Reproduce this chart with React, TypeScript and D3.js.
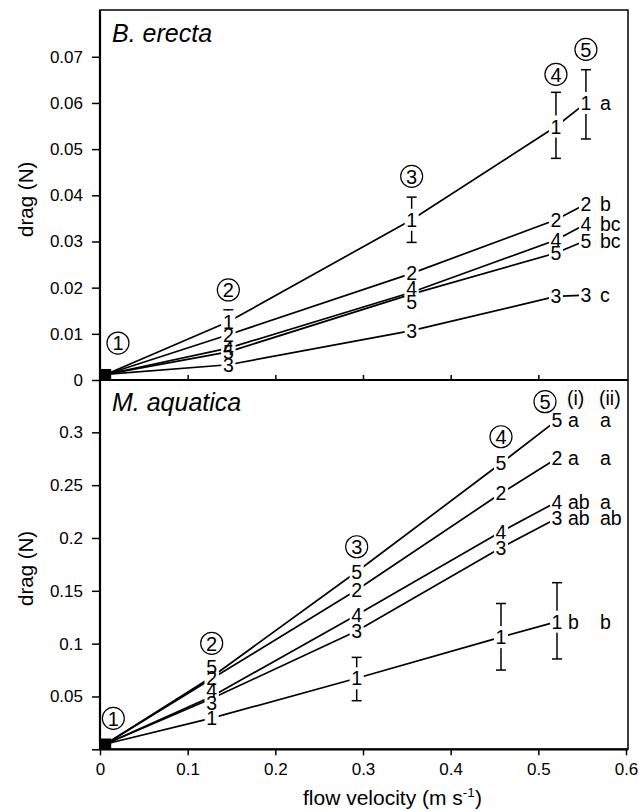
import React, { useEffect, useRef } from "react";
import * as d3 from "d3";

const W = 641;
const H = 811;
const FONT = "'Liberation Sans', Arial, Helvetica, sans-serif";

// ---- B. erecta (top panel) ----
const erectaVelocity = [0.0065, 0.1464, 0.3555, 0.5201, 0.5543];
const erecta1 = [0.0012, 0.0126, 0.0347, 0.0549, 0.06];
const erecta2 = [0.0012, 0.0098, 0.0231, 0.0347, 0.0381];
const erecta3 = [0.0012, 0.0033, 0.0107, 0.0181, 0.0184];
const erecta4 = [0.0012, 0.0069, 0.019, 0.0303, 0.0338];
const erecta5 = [0.0012, 0.0061, 0.0186, 0.0275, 0.0302];
const erecta1Low = [NaN, 0.01, 0.0298, 0.048, 0.0522];
const erecta1High = [NaN, 0.0152, 0.0396, 0.0623, 0.0672];
const erectaLetters = ["a", "b", "c", "bc", "bc"];
// label values moved apart where two symbols sit on one point
const erectaLabelMoves = [
  { series: 3, station: 2, value: 0.02 },
  { series: 4, station: 2, value: 0.017 },
];
const erectaStationX = [0.0205, 0.1464, 0.3555, 0.5201, 0.5543];
const erectaStationY = [0.008, 0.0195, 0.0441, 0.0662, 0.0716];
const erectaTicks = [0, 0.01, 0.02, 0.03, 0.04, 0.05, 0.06, 0.07];

// ---- M. aquatica (bottom panel) ----
const aquaticaVelocity = [0.0065, 0.1274, 0.2928, 0.4574, 0.5213];
const aquatica1 = [0.005, 0.0295, 0.0672, 0.1062, 0.1208];
const aquatica2 = [0.005, 0.0667, 0.1508, 0.2423, 0.2754];
const aquatica3 = [0.005, 0.048, 0.112, 0.1908, 0.2186];
const aquatica4 = [0.005, 0.05, 0.1271, 0.2059, 0.2343];
const aquatica5 = [0.005, 0.0684, 0.168, 0.2707, 0.3116];
const aquatica1Low = [NaN, 0.0199, 0.046, 0.075, 0.0855];
const aquatica1High = [NaN, 0.042, 0.087, 0.138, 0.1577];
const aquaticaLettersI = ["b", "a", "ab", "ab", "a"];
const aquaticaLettersII = ["b", "a", "ab", "a", "a"];
const aquaticaLabelMoves = [
  { series: 4, station: 1, value: 0.0776 },
  { series: 1, station: 1, value: 0.0672 },
  { series: 3, station: 1, value: 0.0561 },
  { series: 2, station: 1, value: 0.0435 },
];
const aquaticaStationX = [0.0152, 0.1274, 0.2928, 0.4574, 0.5076];
const aquaticaStationY = [0.0293, 0.1003, 0.1917, 0.2958, 0.329];
const aquaticaTicks = [0, 0.05, 0.1, 0.15, 0.2, 0.25, 0.3];

const xTicks = [0, 0.1, 0.2, 0.3, 0.4, 0.5, 0.6];
const seriesNames = ["1", "2", "3", "4", "5"];
const stationNames = ["1", "2", "3", "4", "5"];

const LABEL_FS = 19.5;

function drawPanel(svg, x, p) {
  const y = d3.scaleLinear().domain(p.yDomain).range(p.yRange);
  const g = svg.append("g");

  // y axis
  const ya = g
    .append("g")
    .attr("transform", `translate(${x(0)},0)`)
    .call(
      d3
        .axisLeft(y)
        .tickValues(p.yTicks)
        .tickSize(8)
        .tickPadding(9)
        .tickFormat((v) => (p.hideZero && v === 0 ? "" : String(v)))
    );
  ya.select(".domain").remove();
  ya.selectAll("line").attr("stroke", "#000").attr("stroke-width", 1.5);
  ya.selectAll("text")
    .attr("font-size", 17)
    .attr("font-family", FONT)
    .attr("fill", "#000");

  // x axis
  if (p.xLabels) {
    const xa = g
      .append("g")
      .attr("transform", `translate(0,${y(0)})`)
      .call(d3.axisBottom(x).tickValues(xTicks).tickSize(6).tickPadding(8).tickFormat((v) => String(v)));
    xa.select(".domain").remove();
    xa.selectAll("line").attr("stroke", "#000").attr("stroke-width", 1.5);
    xa.selectAll("text")
      .attr("font-size", 17)
      .attr("font-family", FONT)
      .attr("fill", "#000");
  } else {
    const xa = g
      .append("g")
      .attr("transform", `translate(0,${y(0)})`)
      .call(d3.axisTop(x).tickValues(xTicks.slice(1, 6)).tickSize(5).tickFormat(() => ""));
    xa.select(".domain").remove();
    xa.selectAll("line").attr("stroke", "#000").attr("stroke-width", 1.5);
  }

  const line = d3
    .line<number>()
    .x((_, i) => x(p.velocity[i]))
    .y((d) => y(d));

  // lines
  p.series.forEach((s) => {
    g.append("path")
      .datum(s)
      .attr("fill", "none")
      .attr("stroke", "#000")
      .attr("stroke-width", 1.7)
      .attr("d", line);
  });

  // error bars for series 1
  p.low.forEach((lo, i) => {
    if (isNaN(lo)) return;
    const hi = p.high[i];
    const cx = x(p.velocity[i]);
    const eb = g.append("g").attr("stroke", "#000").attr("stroke-width", 1.5);
    eb.append("line").attr("x1", cx).attr("x2", cx).attr("y1", y(lo)).attr("y2", y(hi));
    eb.append("line").attr("x1", cx - 5).attr("x2", cx + 5).attr("y1", y(lo)).attr("y2", y(lo));
    eb.append("line").attr("x1", cx - 5).attr("x2", cx + 5).attr("y1", y(hi)).attr("y2", y(hi));
  });

  // symbol labels (numbers) at each point; white boxes break the lines
  const labels = [];
  p.series.forEach((s, si) => {
    s.forEach((v, i) => {
      if (i === 0) return;
      const mv = p.moves.find((m) => m.series === si && m.station === i);
      labels.push({ t: seriesNames[si], x: x(p.velocity[i]), y: y(mv ? mv.value : v) });
    });
  });
  labels.forEach((l) => {
    g.append("rect")
      .attr("x", l.x - 7)
      .attr("y", l.y - 11)
      .attr("width", 14)
      .attr("height", 22)
      .attr("fill", "#fff");
  });
  const lg = g.append("g").attr("font-size", LABEL_FS).attr("text-anchor", "middle");
  labels.forEach((l) => {
    lg.append("text").attr("x", l.x).attr("y", l.y).attr("dy", "0.36em").attr("fill", "#000").text(l.t);
  });

  // origin symbols (all series overlap)
  g.append("rect")
    .attr("x", x(p.velocity[0]) - 5.5)
    .attr("y", y(p.series[0][0]) - 5.5)
    .attr("width", 11)
    .attr("height", 11)
    .attr("fill", "#000");

  // significance letters
  const x5 = x(p.velocity[4]);
  p.letterCols.forEach((col) => {
    col.letters.forEach((t, si) => {
      g.append("text")
        .attr("x", x5 + col.dx)
        .attr("y", y(p.series[si][4]))
        .attr("dy", "0.36em")
        .attr("font-size", LABEL_FS)
        .attr("fill", "#000")
        .text(t);
    });
    if (col.head) {
      g.append("text")
        .attr("x", x5 + col.dx - 1)
        .attr("y", p.yRange[1] + 25)
        .attr("font-size", LABEL_FS)
        .attr("fill", "#000")
        .text(col.head);
    }
  });

  // circled station numbers
  p.stationX.forEach((sx, i) => {
    const cx = x(sx);
    const cy = y(p.stationY[i]);
    g.append("circle")
      .attr("cx", cx)
      .attr("cy", cy)
      .attr("r", 11)
      .attr("fill", "none")
      .attr("stroke", "#000")
      .attr("stroke-width", 1.2);
    g.append("text")
      .attr("x", cx)
      .attr("y", cy)
      .attr("dy", "0.36em")
      .attr("text-anchor", "middle")
      .attr("font-size", 20)
      .attr("fill", "#000")
      .text(stationNames[i]);
  });

  // panel title
  g.append("text")
    .attr("x", 112)
    .attr("y", p.yRange[1] + 31)
    .attr("font-size", 25)
    .attr("font-style", "italic")
    .attr("fill", "#000")
    .text(p.title);

  // y axis title
  const ym = (p.yRange[0] + p.yRange[1]) / 2 + 4;
  g.append("text")
    .attr("transform", `translate(26,${ym}) rotate(-90)`)
    .attr("dy", "0.36em")
    .attr("text-anchor", "middle")
    .attr("font-size", 20.5)
    .attr("fill", "#000")
    .text("drag (N)");
}

function Chart() {
  const ref = useRef<SVGSVGElement>(null);

  useEffect(() => {
    const svg = d3.select(ref.current);
    svg.selectAll("*").remove();
    svg.attr("width", W).attr("height", H).style("font-family", FONT);
    svg.append("rect").attr("width", W).attr("height", H).attr("fill", "#fff");

    const x = d3.scaleLinear().domain([0, 0.6]).range([100, 626]);

    drawPanel(svg, x, {
      title: "B. erecta",
      yDomain: [0, 0.08],
      yRange: [380, 10.6],
      yTicks: erectaTicks,
      hideZero: false,
      xLabels: false,
      velocity: erectaVelocity,
      series: [erecta1, erecta2, erecta3, erecta4, erecta5],
      low: erecta1Low,
      high: erecta1High,
      moves: erectaLabelMoves,
      stationX: erectaStationX,
      stationY: erectaStationY,
      letterCols: [{ dx: 14, letters: erectaLetters }],
    });

    drawPanel(svg, x, {
      title: "M. aquatica",
      yDomain: [0, 0.35],
      yRange: [749.3, 379.5],
      yTicks: aquaticaTicks,
      hideZero: true,
      xLabels: true,
      velocity: aquaticaVelocity,
      series: [aquatica1, aquatica2, aquatica3, aquatica4, aquatica5],
      low: aquatica1Low,
      high: aquatica1High,
      moves: aquaticaLabelMoves,
      stationX: aquaticaStationX,
      stationY: aquaticaStationY,
      letterCols: [
        { dx: 11, letters: aquaticaLettersI, head: "(i)" },
        { dx: 43, letters: aquaticaLettersII, head: "(ii)" },
      ],
    });

    // frame
    svg.append("rect")
      .attr("x", 100)
      .attr("y", 10)
      .attr("width", 528)
      .attr("height", 739.3)
      .attr("fill", "none")
      .attr("stroke", "#000")
      .attr("stroke-width", 1.5);
    [
      [100, 10, 100, 749.3],
      [100, 749.3, 628, 749.3],
      [100, 380, 628, 380],
    ].forEach(([x1, y1, x2, y2]) => {
      svg.append("line")
        .attr("x1", x1)
        .attr("y1", y1)
        .attr("x2", x2)
        .attr("y2", y2)
        .attr("stroke", "#000")
        .attr("stroke-width", 2.2);
    });

    // x axis title
    const xt = svg.append("text")
      .attr("x", 303)
      .attr("y", 805)
      .attr("font-size", 21)
      .attr("fill", "#000");
    xt.append("tspan").text("flow velocity (m s");
    xt.append("tspan").attr("font-size", 13.5).attr("dy", -8).text("-1");
    xt.append("tspan").attr("dy", 8).text(")");
  }, []);

  return <svg ref={ref} style={{ position: "absolute", left: 0, top: 0 }}></svg>;
}

export default function App() {
  return <Chart />;
}
